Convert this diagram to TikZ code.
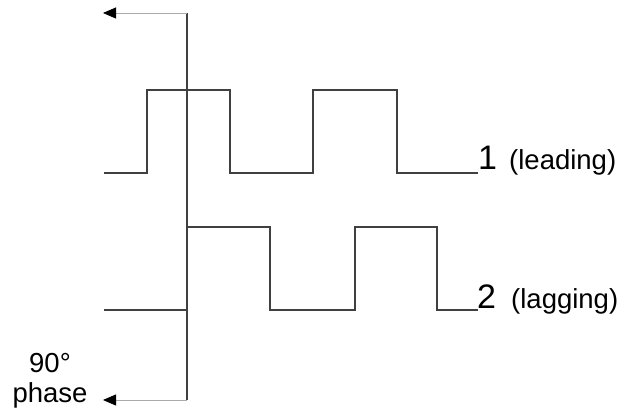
\documentclass[tikz,border=0pt]{standalone}
\usepackage{fontspec}
\setmainfont{Liberation Sans}
\usepackage{xcolor}
\usetikzlibrary{arrows.meta,positioning}
\definecolor{WaveGray}{RGB}{64,64,64}
\definecolor{ArrowGray}{RGB}{170,170,170}

\begin{document}
\begin{tikzpicture}[x=1pt,y=-1pt,
	wave/.style={line width=1.6pt,WaveGray,line join=miter},
	marker/.style={line width=1.6pt,WaveGray},
	phasearrow/.style={line width=0.8pt,ArrowGray,-{Triangle[black,length=13pt,width=11pt]}},
	bignum/.style={inner sep=0pt,font=\fontsize{34}{40}\selectfont},
	smalltxt/.style={inner sep=0pt,font=\fontsize{27.5}{30}\selectfont}
	]
		\useasboundingbox (0,0) rectangle (622,411);
		\coordinate (markTop) at (187,13);
		\coordinate (markBot) at (187,400);
		\coordinate (arrTop) at (103,13);
		\coordinate (arrBot) at (103,400);
		\coordinate (endOne) at (478,173);
		\coordinate (endTwo) at (478,310);
		
		% 信号 1（超前）
		\draw[wave] (104,173) -- (147,173) -- (147,90) -- (230,90) -- (230,173)
			-- (313,173) -- (313,90) -- (397,90) -- (397,173) -- (endOne);
		
		% 信号 2（滞后）
		\draw[wave] (104,310) -- (187,310) -- (187,227) -- (270,227) -- (270,310)
			-- (355,310) -- (355,227) -- (437,227) -- (437,310) -- (endTwo);
		
		% 竖直标记线
		\draw[marker] (markTop) -- (markBot);
		
		% 箭头
		\draw[phasearrow] (markTop) -- (arrTop);
		\draw[phasearrow] (markBot) -- (arrBot);
		
		% 标注
		\node[bignum,anchor=base west] (one) at (478,170) {1};
		\node[smalltxt,anchor=base west] (oneTxt) at (509,170) {(leading)};
		\node[bignum,anchor=base west] (two) at (477,309) {2};
		\node[smalltxt,anchor=base west] (twoTxt) at (511,309) {(lagging)};
		\node[smalltxt,align=center] (phaseTxt) at (50,381) {90°\\phase};
	\end{tikzpicture}
\end{document}
